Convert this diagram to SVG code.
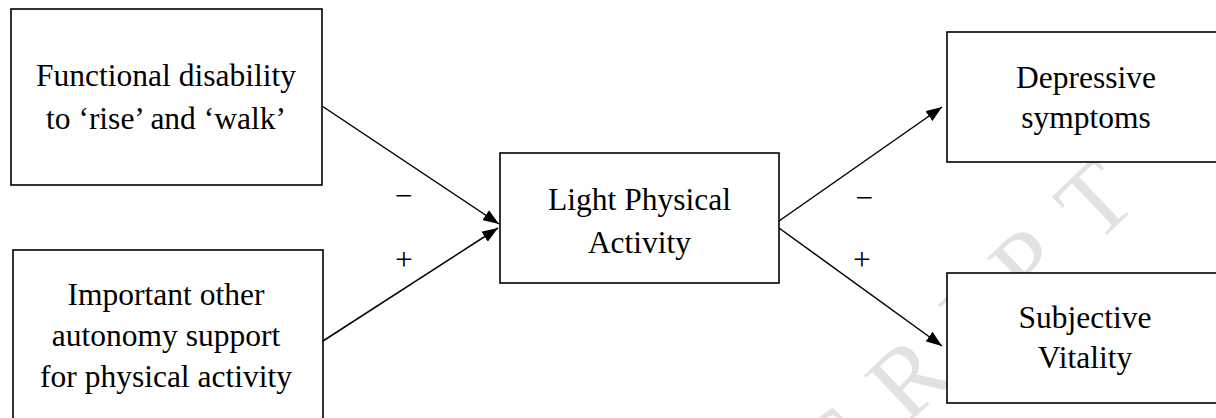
<svg xmlns="http://www.w3.org/2000/svg" width="1216" height="418" viewBox="0 0 1216 418">
  <style>
    .box { fill: #ffffff; stroke: #000000; stroke-width: 1.6; }
    .label { font-family: "Liberation Serif", "Times New Roman", serif; font-size: 31.5px; fill: #000000; text-anchor: middle; }
    .sign { font-family: "Liberation Serif", "Times New Roman", serif; font-size: 31.5px; fill: #000000; text-anchor: middle; }
    .edge { fill: none; stroke: #000000; stroke-width: 1.5; marker-end: url(#arrow); }
    .mark { font-family: "Liberation Serif", "Times New Roman", serif; font-size: 100px; letter-spacing: 35px; fill: #e2e2e2; }
  </style>
  <defs>
    <marker id="arrow" markerUnits="userSpaceOnUse" markerWidth="16" markerHeight="12" refX="16" refY="6" orient="auto">
      <path d="M0,0 L16,6 L0,12 Z" fill="#000000"/>
    </marker>
  </defs>

  <rect width="1216" height="418" fill="#ffffff"/>

  <!-- diagonal page watermark, under the boxes -->
  <text class="mark" transform="translate(445,865) rotate(-43.6)" x="0" y="0">MANUSCRIPT</text>

  <g id="connectors">
    <line class="edge" x1="322" y1="106" x2="499" y2="224"/>
    <line class="edge" x1="323" y1="341" x2="498" y2="228"/>
    <line class="edge" x1="779" y1="221" x2="942" y2="107"/>
    <line class="edge" x1="779" y1="228" x2="942" y2="346"/>
    <text class="sign" x="404" y="206">−</text>
    <text class="sign" x="404" y="270">+</text>
    <text class="sign" x="864.5" y="208">−</text>
    <text class="sign" x="862" y="270">+</text>
  </g>

  <g id="functional-disability">
    <rect class="box" x="11" y="9" width="311" height="176"/>
    <text class="label" x="166" y="86">Functional disability</text>
    <text class="label" x="166" y="129">to ‘rise’ and ‘walk’</text>
  </g>

  <g id="autonomy-support">
    <rect class="box" x="13" y="250" width="310" height="200"/>
    <text class="label" x="166" y="305">Important other</text>
    <text class="label" x="166" y="346">autonomy support</text>
    <text class="label" x="166" y="387">for physical activity</text>
  </g>

  <g id="light-physical-activity">
    <rect class="box" x="500" y="153" width="279" height="130"/>
    <text class="label" x="639.5" y="210">Light Physical</text>
    <text class="label" x="639.5" y="253">Activity</text>
  </g>

  <g id="depressive-symptoms">
    <rect class="box" x="947" y="32" width="278" height="130"/>
    <text class="label" x="1086" y="88">Depressive</text>
    <text class="label" x="1086" y="128">symptoms</text>
  </g>

  <g id="subjective-vitality">
    <rect class="box" x="947" y="273" width="278" height="130"/>
    <text class="label" x="1085" y="328">Subjective</text>
    <text class="label" x="1085" y="368">Vitality</text>
  </g>
</svg>
